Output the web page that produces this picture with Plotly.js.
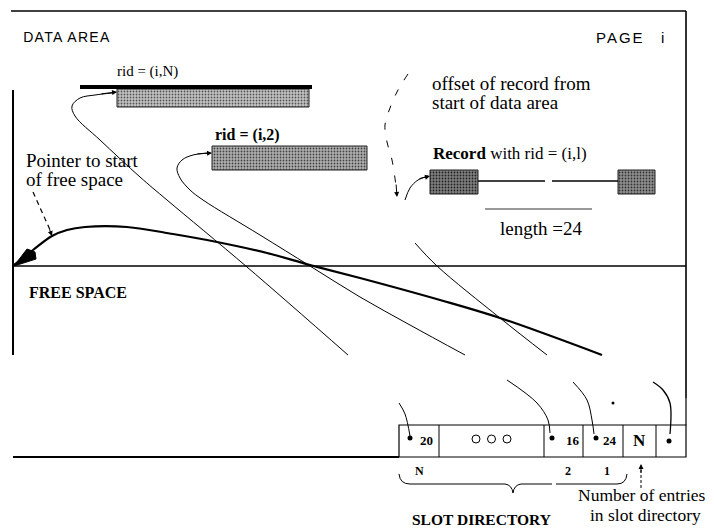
<!DOCTYPE html>
<html>
<head>
<meta charset="utf-8">
<script src="https://cdn.plot.ly/plotly-3.0.1.min.js"></script>
<style>
html,body{margin:0;padding:0;background:#fff;}
#chart{width:714px;height:532px;}
#chart g.annotation[data-index="0"] text{letter-spacing:1.3px;}
#chart g.annotation[data-index="1"] text{letter-spacing:2px;}
</style>
</head>
<body>
<div id="chart"></div>
<script>
// ---- content (values / labels) ----
var slotValues = ['20', '', '16', '24', 'N', ''];
var slotHasDot = [true, false, true, true, false, true];
var slotEllipsis = 3;                    // number of open circles in the middle cell
var slotLabels = ['N', '2', '1'];
var recordLabels = ['rid = (i,N)', 'rid = (i,2)', '<b>Record</b> with rid = (i,l)'];
var lengthLabel = 'length =24';
var titles = ['DATA AREA', 'PAGE', 'i', 'FREE SPACE', 'SLOT DIRECTORY'];
var notes = ['offset of record from', 'start of data area', 'Pointer to start', 'of free space',
             'Number of entries', 'in slot directory'];

// ---- geometry (pixel-space layout of the diagram) ----
var slotEdges = [399, 439, 544, 583, 623, 656, 686];
var slotTop = 425, slotBot = 457;
var slotDotX = [410, null, 552, 596, null, 669];
var slotDotY = [438, null, 438, 438, null, 441];
var slotTextX = [426, null, 573, 610, 639, null];
var slotLabelX = [419, 568, 607];

var recX0 = [117, 212, 430, 618];
var recX1 = [309, 367, 478, 655];
var recY0 = [89, 146, 170, 170];
var recY1 = [107, 170, 194, 194];
var recShade = ['#c4c4c4', '#b0b0b0', '#808080', '#909090'];
var recDots = ['#555', '#444', '#222', '#333'];

var freePtrX = [14, 33, 52, 67, 85, 127, 173, 217, 267, 310, 360, 440, 500, 602];
var freePtrY = [265, 250, 236, 230, 227, 227, 234, 242, 253, 265, 278, 300, 318, 355];

var ptrN_X = [112, 95, 80, 72, 75, 100, 140, 167, 247, 348];
var ptrN_Y = [93, 95, 98, 106, 116, 140, 177, 200, 267, 355];
var ptr2_X = [207, 193, 182, 177, 180, 190, 203, 260, 310, 360, 410, 465];
var ptr2_Y = [153, 155, 160, 168, 178, 190, 200, 235, 266, 297, 325, 355];
var ptr1_X = [415, 437, 500, 547];
var ptr1_Y = [243, 266, 318, 355];

var lowN_X = [399, 405, 410];   var lowN_Y = [403, 414, 436];
var low2_X = [507, 537, 548, 550]; var low2_Y = [380, 403, 420, 433];
var low1_X = [573, 587, 592, 594]; var low1_Y = [382, 400, 420, 434];
var lowF_X = [653, 663, 670, 670]; var lowF_Y = [382, 390, 403, 434];

var offX = [408, 398, 390, 385, 387, 392, 396];
var offY = [74, 90, 108, 125, 142, 160, 186];

var SERIF = '"Liberation Serif", "Times New Roman", serif';
var SANS = '"Liberation Sans", Arial, sans-serif';

var traces = [];
function curve(xs, ys, w, dash) {
  traces.push({type: 'scatter', mode: 'lines', x: xs, y: ys, hoverinfo: 'skip', showlegend: false,
    line: {color: '#000', width: w, shape: 'spline', smoothing: 1, dash: dash || 'solid'}});
}
// record boxes as horizontal bars with stipple pattern
for (var i = 0; i < recX0.length; i++) {
  traces.push({type: 'bar', orientation: 'h', base: [recX0[i]], x: [recX1[i] - recX0[i]],
    y: [(recY0[i] + recY1[i]) / 2], width: [recY1[i] - recY0[i]], hoverinfo: 'skip', showlegend: false,
    marker: {color: recShade[i], line: {color: '#222', width: 1},
      pattern: {shape: '.', fgcolor: recDots[i], bgcolor: recShade[i], size: 3, solidity: 0.3}}});
}
curve(freePtrX, freePtrY, 2.2);
curve(ptrN_X, ptrN_Y, 1);
curve(ptr2_X, ptr2_Y, 1);
curve(ptr1_X, ptr1_Y, 1);
curve(lowN_X, lowN_Y, 1);
curve(low2_X, low2_Y, 1);
curve(low1_X, low1_Y, 1);
curve(lowF_X, lowF_Y, 1.3);
curve(offX, offY, 1, '7px,11px');
curve([405, 410, 418, 428], [200, 188, 180, 176], 1);
// slot pointer dots
var dx = [], dy = [];
for (var i = 0; i < slotHasDot.length; i++) if (slotHasDot[i]) { dx.push(slotDotX[i]); dy.push(slotDotY[i]); }
traces.push({type: 'scatter', mode: 'markers', x: dx, y: dy, hoverinfo: 'skip', showlegend: false,
  marker: {color: '#000', size: 5}});
traces.push({type: 'scatter', mode: 'markers', x: [613], y: [403], hoverinfo: 'skip', showlegend: false,
  marker: {color: '#000', size: 3}});
// open circles of the middle slot cell
var ex = [], ey = [];
var cmid = (slotEdges[1] + slotEdges[2]) / 2;
for (var k = 0; k < slotEllipsis; k++) { ex.push(cmid + (k - (slotEllipsis - 1) / 2) * 15.5); ey.push(439); }
traces.push({type: 'scatter', mode: 'markers', x: ex, y: ey, hoverinfo: 'skip', showlegend: false,
  marker: {symbol: 'circle-open', color: '#000', size: 8, line: {width: 1}}});

var shapes = [];
function ln(x0, y0, x1, y1, w, c, dash) {
  shapes.push({type: 'line', xref: 'x', yref: 'y', x0: x0, y0: y0, x1: x1, y1: y1,
    line: {color: c || '#000', width: w, dash: dash || 'solid'}});
}
ln(11, 11, 686, 11, 1.6);          // top border
ln(686, 11, 686, 398, 1.6);        // right border
ln(13, 90, 13, 355, 2);            // left border
ln(13, 266, 686, 266, 1.5);        // free space boundary
ln(13, 457, 399, 457, 2.2);        // bottom
ln(80, 87, 312, 87, 4);            // thick line over rid N
ln(485, 209, 592, 209, 1.5, '#777'); // length bar
ln(478, 181, 545, 181, 1.5);
ln(552, 181, 618, 181, 1.5);
ln(33, 192, 51, 232, 1.2, '#000', '5px,4px'); // dashed pointer note
ln(641, 470, 641, 488, 1, '#000', '3px,2px');
// slot directory
shapes.push({type: 'rect', xref: 'x', yref: 'y', x0: slotEdges[0], x1: slotEdges[slotEdges.length - 1],
  y0: slotTop, y1: slotBot, line: {color: '#000', width: 1.2}});
for (var i = 1; i < slotEdges.length - 1; i++) ln(slotEdges[i], slotTop, slotEdges[i], slotBot, 1);
ln(686, 398, 686, slotTop, 1.2);
// arrowhead at start of free space pointer
shapes.push({type: 'path', xref: 'x', yref: 'y', path: 'M14,266 L27,249 L35,252 L36,259 Z',
  fillcolor: '#000', line: {color: '#000', width: 1}});
// brace
shapes.push({type: 'path', xref: 'x', yref: 'y',
  path: 'M399,474 Q400,484 410,484 L505,484 Q512,485 513,493 Q514,485 521,484 L552,484 M556,484 L617,484 Q626,484 627,474',
  line: {color: '#000', width: 1}});

var ann = [];
function t(text, x, y, size, family, anchor, bold) {
  ann.push({text: text, x: x, y: y, xref: 'x', yref: 'y', showarrow: false, xanchor: anchor || 'left',
    yanchor: 'middle', font: {family: family, size: size, color: '#000', weight: bold ? 'bold' : 'normal'}});
}
function arrow(x, y, axv, ayv, w, head) {
  ann.push({x: x, y: y, ax: axv, ay: ayv, xref: 'x', yref: 'y', axref: 'x', ayref: 'y', text: '',
    showarrow: true, arrowhead: head || 2, arrowwidth: w || 1, arrowsize: 1, arrowcolor: '#000'});
}
t(titles[0], 27, 37, 14, SANS);              // index 0 (letter-spaced)
t(titles[1], 598, 37, 15, SANS);             // index 1 (letter-spaced)
t(titles[2], 662, 37, 15, SANS, 'center');
t(titles[3], 27, 292, 16, SERIF, 'left', true);
t(titles[4], 410, 519, 15.5, SERIF, 'left', true);
t(recordLabels[0], 115, 71, 15, SERIF);
t(recordLabels[1], 213, 135, 16, SERIF, 'left', true);
t(recordLabels[2], 431, 153, 17, SERIF);
t(notes[0], 430, 83, 19, SERIF);
t(notes[1], 430, 102, 19, SERIF);
t(notes[2], 24, 160, 19, SERIF);
t(notes[3], 24, 179, 19, SERIF);
t(notes[4], 576, 495, 17.5, SERIF);
t(notes[5], 588, 515, 17.5, SERIF);
t(lengthLabel, 498, 228, 19, SERIF);
for (var i = 0; i < slotValues.length; i++) {
  if (!slotValues[i]) continue;
  t(slotValues[i], slotTextX[i], 440, i === 4 ? 17 : 13, SERIF, 'center', true);
}
for (var i = 0; i < slotLabels.length; i++) t(slotLabels[i], slotLabelX[i], 471, 12, SERIF, 'center', true);
// arrowheads
arrow(117, 92, 100, 94, 1);
arrow(212, 153, 196, 154, 1);
arrow(430, 176, 418, 179, 1);
arrow(397, 197, 396, 183, 1);
arrow(52, 236, 49, 228, 1);
arrow(641, 464, 641, 474, 1);

var layout = {
  width: 714, height: 532, margin: {l: 0, r: 0, t: 0, b: 0},
  paper_bgcolor: '#fff', plot_bgcolor: '#fff', barmode: 'overlay', showlegend: false,
  xaxis: {range: [0, 714], visible: false, fixedrange: true},
  yaxis: {range: [532, 0], visible: false, fixedrange: true},
  shapes: shapes, annotations: ann
};
Plotly.newPlot('chart', traces, layout, {staticPlot: true, displayModeBar: false});
</script>
</body>
</html>
